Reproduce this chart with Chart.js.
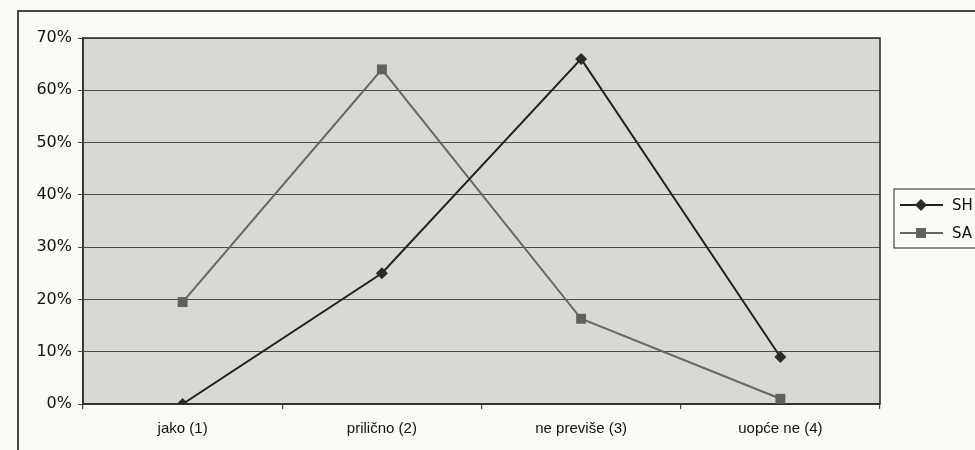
<!DOCTYPE html>
<html>
<head>
<meta charset="utf-8">
<script src="https://cdn.jsdelivr.net/npm/chart.js@4/dist/chart.umd.min.js"></script>
<style>
  html, body { margin: 0; padding: 0; background: #fbfbf5; }
  #frame { position: absolute; left: 17px; top: 10px; width: 1000px; height: 500px; border: 2px solid #444; }
  #chart { position: absolute; left: 0; top: 0; }
</style>
</head>
<body>
<div id="frame"></div>
<canvas id="chart" width="975" height="450"></canvas>
<script>
const categories = ['jako (1)', 'prilično (2)', 'ne previše (3)', 'uopće ne (4)'];
const seriesSH = [0, 25, 66, 9];
const seriesSA = [19.5, 64, 16.3, 1];
const yTicks = [0, 10, 20, 30, 40, 50, 60, 70];

const plotArea = {
    id: 'plotArea',
    beforeDraw(chart) {
        const a = chart.chartArea;
        const ctx = chart.ctx;
        ctx.save();
        ctx.fillStyle = '#d8d8d4';
        ctx.fillRect(a.left, a.top, a.right - a.left, a.bottom - a.top);
        ctx.restore();
    },
    beforeDatasetsDraw(chart) {
        const a = chart.chartArea;
        const ctx = chart.ctx;
        ctx.save();
        ctx.strokeStyle = '#333';
        ctx.lineWidth = 1.6;
        ctx.strokeRect(a.left, a.top, a.right - a.left, a.bottom - a.top);
        ctx.restore();
    }
};

// legend box on the right, drawn from the datasets
const boxLegend = {
    id: 'boxLegend',
    afterDraw(chart) {
        const ctx = chart.ctx;
        const x = 894, y = 189, w = 100, h = 59;
        ctx.save();
        ctx.strokeStyle = '#555';
        ctx.lineWidth = 1.3;
        ctx.strokeRect(x, y, w, h);
        chart.data.datasets.forEach((ds, i) => {
            const cy = y + 16 + i * 28;
            ctx.strokeStyle = ds.borderColor;
            ctx.lineWidth = ds.borderWidth;
            ctx.beginPath();
            ctx.moveTo(900, cy);
            ctx.lineTo(943, cy);
            ctx.stroke();
            ctx.fillStyle = ds.backgroundColor;
            Chart.helpers.drawPoint(ctx, {
                pointStyle: ds.pointStyle,
                radius: ds.pointRadius,
                borderWidth: 0
            }, 921, cy);
            ctx.fillStyle = '#111';
            ctx.font = '15px "DejaVu Sans"';
            ctx.textBaseline = 'middle';
            ctx.fillText(ds.label, 952, cy + 1);
        });
        ctx.restore();
    }
};

new Chart(document.getElementById('chart'), {
    type: 'line',
    data: {
        labels: categories,
        datasets: [{
            label: 'SH',
            data: seriesSH,
            borderColor: '#222',
            backgroundColor: '#2a2a2a',
            borderWidth: 2,
            pointStyle: 'rectRot',
            pointRadius: 6,
            pointBorderWidth: 0,
            tension: 0
        }, {
            label: 'SA',
            data: seriesSA,
            borderColor: '#666',
            backgroundColor: '#606060',
            borderWidth: 2,
            pointStyle: 'rect',
            pointRadius: 7,
            pointBorderWidth: 0,
            tension: 0
        }]
    },
    options: {
        responsive: false,
        animation: false,
        devicePixelRatio: 1,
        layout: { padding: { left: 0, top: 38, right: 95, bottom: 0 } },
        plugins: {
            legend: { display: false },
            tooltip: { enabled: false }
        },
        scales: {
            x: {
                offset: true,
                afterFit: (s) => { s.height = 46; },
                grid: { offset: true, drawOnChartArea: false, tickLength: 5, color: '#444', lineWidth: 1.2 },
                border: { color: '#333', width: 1.6 },
                ticks: {
                    color: '#111',
                    padding: 11,
                    font: { family: '"Liberation Sans", Arial', size: 15 }
                }
            },
            y: {
                min: 0,
                max: 70,
                afterFit: (s) => { s.width = 83; },
                afterBuildTicks: (s) => { s.ticks = yTicks.map(v => ({ value: v })); },
                grid: { color: '#4a4a4a', lineWidth: 1, tickLength: 5 },
                border: { color: '#333', width: 1.6 },
                ticks: {
                    color: '#111',
                    padding: 6,
                    font: { family: '"DejaVu Sans"', size: 16 },
                    callback: (v) => v + '%'
                }
            }
        }
    },
    plugins: [plotArea, boxLegend]
});
</script>
</body>
</html>
